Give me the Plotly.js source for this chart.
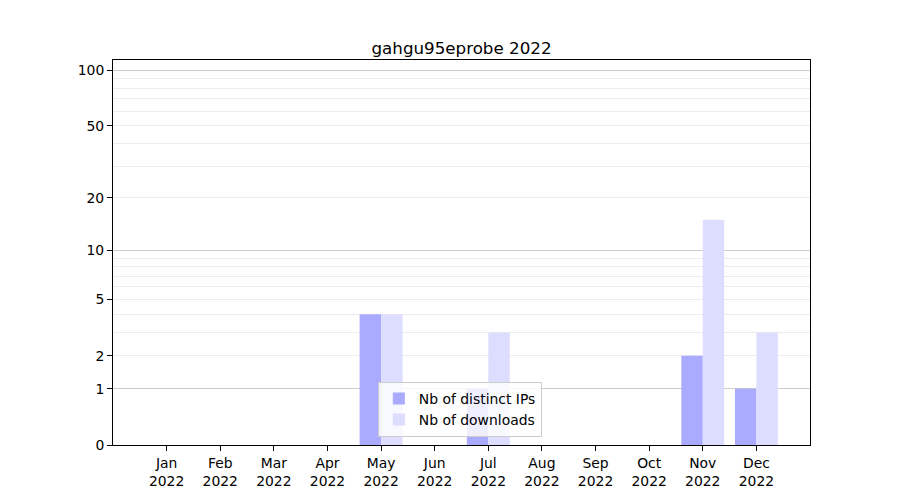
<!DOCTYPE html>
<html>
<head>
<meta charset="utf-8">
<script src="https://cdn.plot.ly/plotly-3.0.1.min.js"></script>
<style>html,body{margin:0;padding:0;background:#fff;}#chart{width:900px;height:500px;}</style>
</head>
<body>
<div id="chart"></div>
<script>
// Data
const months = [0,1,2,3,4,5,6,7,8,9,10,11];
const monthLabels = ["Jan<br>2022","Feb<br>2022","Mar<br>2022","Apr<br>2022","May<br>2022","Jun<br>2022","Jul<br>2022","Aug<br>2022","Sep<br>2022","Oct<br>2022","Nov<br>2022","Dec<br>2022"];
const distinctIPs = [0,0,0,0,4,0,1,0,0,0,2,1];
const downloads   = [0,0,0,0,4,0,3,0,0,0,15,3];
const yTickValues = [0,1,2,5,10,20,50,100];
const minorGrid = [2,3,4,5,6,7,8,9,20,30,40,50,60,70,80,90];
const majorGrid = [1,10,100];

// y axis is log(1 + v): bars start at base 1 on a log axis
const shift = v => v + 1;
const base = months.map(() => 1);
const yRange = [0, Math.log10(114.5)];
const font = {family: "DejaVu Sans", size: 13.9, color: "#000"};

const traces = [
  {type: "bar", name: "Nb of distinct IPs", x: months, y: distinctIPs, base: base,
   width: 0.4, offset: -0.4, yaxis: "y",
   marker: {color: "rgb(170,170,255)", line: {width: 0}}},
  {type: "bar", name: "Nb of downloads", x: months, y: downloads, base: base,
   width: 0.4, offset: 0, yaxis: "y2",
   marker: {color: "rgb(221,221,255)", line: {width: 0}}}
];

const layout = {
  width: 900, height: 500,
  margin: {l: 113, r: 90, t: 60, b: 55},
  paper_bgcolor: "#fff", plot_bgcolor: "#fff",
  font: font,
  title: {text: "gahgu95eprobe 2022", font: {family: "DejaVu Sans", size: 16.7, color: "#000"},
          x: 0.5, xref: "paper", y: 1, yref: "paper", yanchor: "bottom", pad: {b: 6}},
  barmode: "overlay",
  showlegend: true,
  legend: {x: 0.38, xanchor: "left", y: 0.021, yanchor: "bottom",
           bgcolor: "rgba(255,255,255,0.8)", bordercolor: "#cccccc", borderwidth: 1,
           font: font, tracegroupgap: 0},
  xaxis: {range: [-1, 12], tickmode: "array", tickvals: months, ticktext: monthLabels,
          ticks: "outside", ticklen: 5, tickwidth: 1, tickcolor: "#000",
          showline: true, linecolor: "#000", linewidth: 1, mirror: true,
          showgrid: false, zeroline: false, tickfont: font},
  yaxis: {type: "log", range: yRange, tickmode: "array",
          tickvals: yTickValues.map(shift), ticktext: yTickValues.map(String),
          ticks: "outside", ticklen: 5, tickwidth: 1, tickcolor: "#000",
          showline: true, linecolor: "#000", linewidth: 1, mirror: true,
          showgrid: false, zeroline: false, tickfont: font},
  yaxis2: {type: "log", range: yRange, overlaying: "y", side: "left", tickmode: "array",
           tickvals: minorGrid.map(shift), showticklabels: false, ticks: "",
           showgrid: true, gridcolor: "#ececec", gridwidth: 1, showline: false, zeroline: false,
           minor: {tickmode: "array", tickvals: majorGrid.map(shift), ticks: "",
                   showgrid: true, gridcolor: "#cccccc", gridwidth: 1}}
};

Plotly.newPlot("chart", traces, layout, {displayModeBar: false, staticPlot: true});
</script>
</body>
</html>
